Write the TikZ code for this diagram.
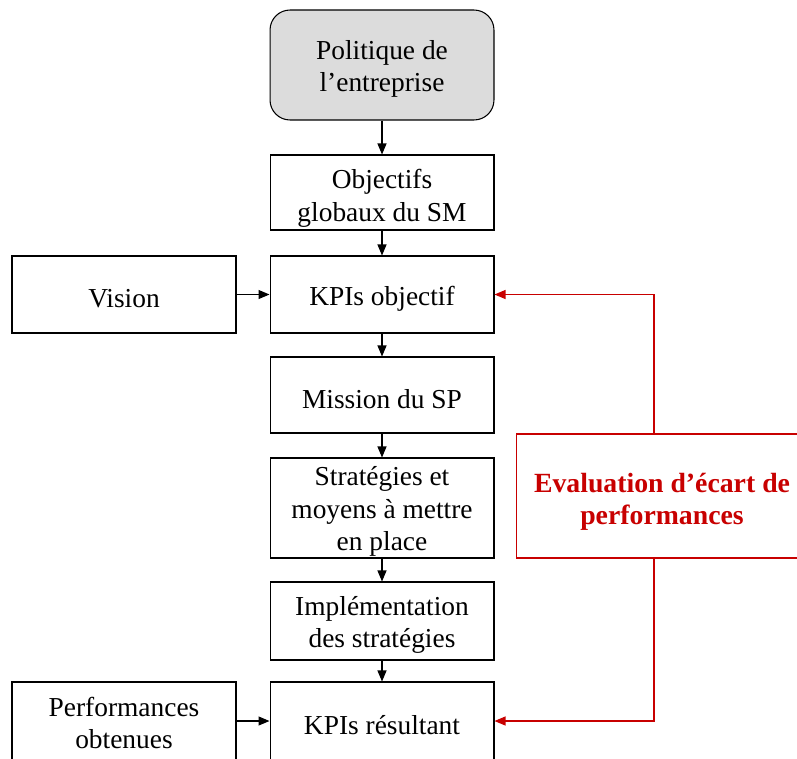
\documentclass[tikz,border=0pt]{standalone}
\usepackage{fontspec}
\setmainfont{Liberation Serif}
\usepackage{tikz}
\usetikzlibrary{calc,arrows.meta}
\definecolor{evalred}{RGB}{200,0,0}
\definecolor{polgray}{RGB}{220,220,220}

\begin{document}
\begin{tikzpicture}[x=0.02cm,y=-0.02cm,
 bloc/.style={draw=black, line width=0.6pt, minimum width=4.48cm, align=center,
   font=\fontsize{15.6}{18.5}\selectfont, inner sep=0pt, text height=15.5pt},
 fleche/.style={-{Triangle[length=2.2mm,width=1.8mm]}, line width=0.6pt},
 retour/.style={-{Triangle[length=2.2mm,width=1.8mm]}, line width=0.6pt, draw=evalred}]

 \useasboundingbox (0,0) rectangle (797,758);

 %\node at (382, 0) {};

 \node[bloc, fill=polgray, rounded corners=0.4cm, minimum height=2.2cm, text height=34pt] (pol) at (382, 65) {Politique de\\l’entreprise};
 \node[bloc, minimum height=1.5cm, text height=36pt] (obj) at (382, 192.5) {Objectifs\\globaux du SM};
 \node[bloc, minimum height=1.54cm] (kpio) at (382, 294.5) {KPIs objectif};
 \node[bloc, minimum height=1.54cm] (vis) at (124, 294.5) {Vision};
 \node[bloc, minimum height=1.52cm] (mis) at (382, 395) {Mission du SP};
 \node[bloc, minimum height=2cm, text height=52pt] (str) at (382, 508) {Stratégies et\\moyens à mettre\\en place};
 \node[bloc, minimum height=1.56cm, text height=34pt] (imp) at (382, 621) {Implémentation\\des stratégies};
 \node[bloc, minimum height=1.56cm] (kpir) at (382, 721) {KPIs résultant};
 \node[bloc, minimum height=1.56cm, text height=32pt] (perf) at (124, 721) {Performances\\obtenues};

 \node[bloc, draw=evalred, text=evalred, minimum width=5.84cm, minimum height=2.48cm, text height=36pt,
   font=\fontsize{15.8}{18.5}\selectfont\bfseries] (eval) at (662, 496) {Evaluation d’écart de\\performances};

 \draw[fleche] (pol) -- (obj);
 \draw[fleche] (obj) -- (kpio);
 \draw[fleche] (kpio) -- (mis);
 \draw[fleche] (mis) -- (str);
 \draw[fleche] (str) -- (imp);
 \draw[fleche] (imp) -- (kpir);

 \draw[fleche] (vis) -- (kpio);
 \draw[fleche] (perf) -- (kpir);

 \draw[retour] ($(eval.north)+(-8,0)$) |- (kpio.east);
 \draw[retour] ($(eval.south)+(-8,0)$) |- (kpir.east);

\end{tikzpicture}
\end{document}
